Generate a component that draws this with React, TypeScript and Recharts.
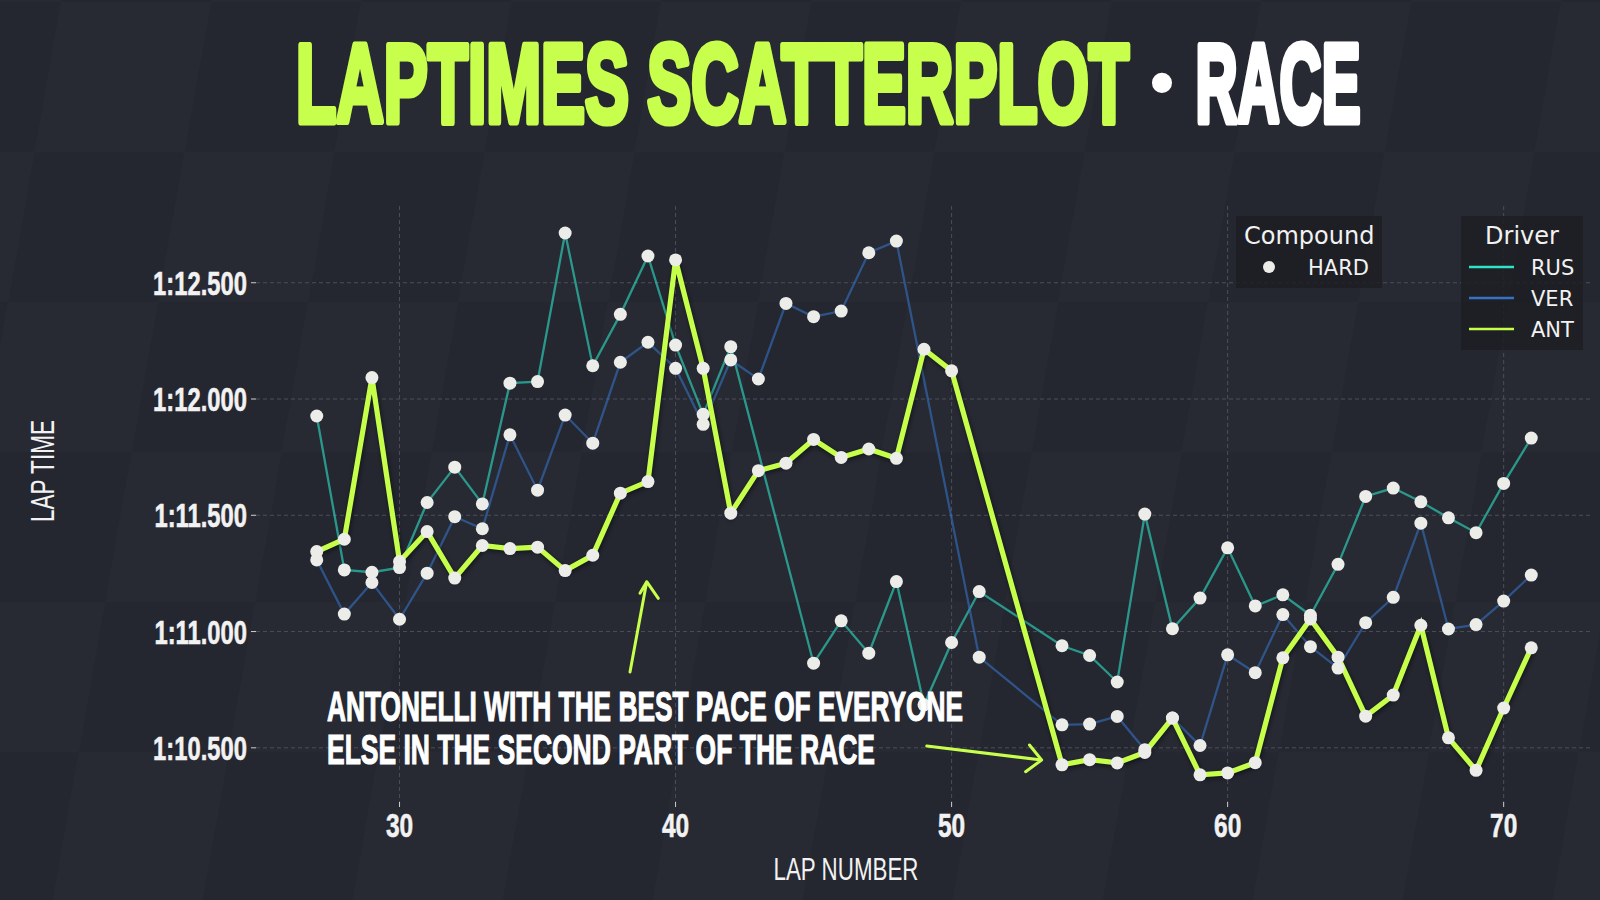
import React from 'react';
import { ComposedChart, Line, XAxis, YAxis, CartesianGrid } from 'recharts';

const laps = [
    27, 28, 29, 30, 31, 32, 33, 34, 35, 36, 37, 38, 39, 40, 41, 42, 43, 44, 45, 46, 47, 48, 49,
    50, 51, 52, 53, 54, 55, 56, 57, 58, 59, 60, 61, 62, 63, 64, 65, 66, 67, 68, 69, 70, 71,
];

const rusTimes = [
    71.927, 71.265, 71.255, 71.275, 71.555, 71.707, 71.549, 72.068, 72.075, 72.714, 72.143, 72.364, 72.615,
    72.232, 71.934, 72.225, null, null, 70.864, 71.046, 70.907, 71.215, 70.685,
    70.953, 71.172, null, null, 70.939, 70.897, 70.783, 71.505, 71.012, 71.144, 71.360, 71.110,
    71.158, 71.070, 71.289, 71.581, 71.617, 71.558, 71.489, 71.425, 71.637, 71.832,
];

const verTimes = [
    71.308, 71.075, 71.211, 71.053, 71.251, 71.494, 71.442, 71.846, 71.608, 71.931, 71.810, 72.158, 72.244,
    72.132, 71.891, 72.168, 72.086, 72.411, 72.354, 72.378, 72.629, 72.679, null,
    null, 70.890, null, null, 70.599, 70.602, 70.635, 70.492, 70.628, 70.510, 70.900, 70.823,
    71.073, 70.935, 70.843, 71.038, 71.147, 71.466, 71.011, 71.030, 71.131, 71.243,
];

const antTimes = [
    71.344, 71.397, 72.092, 71.301, 71.430, 71.230, 71.370, 71.357, 71.363, 71.262, 71.328, 71.595, 71.645,
    72.598, 72.132, 71.509, 71.692, 71.724, 71.826, 71.749, 71.785, 71.745, 72.214,
    72.121, null, null, null, 70.427, 70.449, 70.435, 70.480, 70.628, 70.384, 70.392, 70.436,
    70.887, 71.054, 70.890, 70.636, 70.727, 71.027, 70.543, 70.403, 70.671, 70.930,
];

const drivers = ['RUS', 'VER', 'ANT'];
const driverColors = ['#2ee3c8', '#3572c2', '#c6ff4a'];

const lapTicks = [30, 40, 50, 60, 70];
const timeTicks = [70.5, 71, 71.5, 72, 72.5];

const annotationLines = [
    'ANTONELLI WITH THE BEST PACE OF EVERYONE',
    'ELSE IN THE SECOND PART OF THE RACE',
];

const LIME = '#c8ff4d';
const MARKER = '#ecece8';
const TEXT = '#f2f2f2';
const SANS = "'Liberation Sans', Arial, sans-serif";
const LEGEND_FONT = "'DejaVu Sans', sans-serif";

const data = laps.map((lap, i) => ({
    lap,
    RUS: rusTimes[i],
    VER: verTimes[i],
    ANT: antTimes[i],
}));

const formatLapTime = (v: number): string => {
    const m = Math.floor(v / 60);
    const s = v - m * 60;
    return `${m}:${s.toFixed(3).padStart(6, '0')}`;
};

// condensed text: squeeze horizontally so the box matches the reference width
const Squeezed = ({ x, y, width, sx, rotate, children, ...rest }: any) => (
    <text
        transform={`translate(${x},${y})${rotate ? ` rotate(${rotate})` : ''} scale(${sx},1)`}
        textLength={width / sx}
        lengthAdjust="spacingAndGlyphs"
        {...rest}
    >
        {children}
    </text>
);

const TimeTick = ({ x, y, payload }: any) => (
    <g transform={`translate(${x},${y})`}>
        <text
            transform="scale(0.7,1)"
            textAnchor="end"
            dy={12}
            fontFamily={SANS}
            fontWeight={700}
            fontSize={34}
            fill={TEXT}
            stroke={TEXT}
            strokeWidth={0.6}
        >
            {formatLapTime(payload.value)}
        </text>
    </g>
);

const LapTick = ({ x, y, payload }: any) => (
    <g transform={`translate(${x},${y})`}>
        <text
            transform="scale(0.72,1)"
            textAnchor="middle"
            dy={28}
            fontFamily={SANS}
            fontWeight={700}
            fontSize={34}
            fill={TEXT}
            stroke={TEXT}
            strokeWidth={0.6}
        >
            {payload.value}
        </text>
    </g>
);

const Background = () => (
    <svg width={1600} height={900} style={{ position: 'absolute', left: 0, top: 0 }}>
        <defs>
            <pattern
                id="checker"
                width={300}
                height={300}
                patternUnits="userSpaceOnUse"
                patternTransform="translate(61,2) skewX(-10)"
            >
                <rect width={300} height={300} fill="#242630" />
                <rect x={0} y={0} width={150} height={150} fill="#272933" />
                <rect x={150} y={150} width={150} height={150} fill="#272933" />
            </pattern>
        </defs>
        <rect width={1600} height={900} fill="url(#checker)" />
    </svg>
);

const Overlay = () => (
    <svg width={1600} height={900} style={{ position: 'absolute', left: 0, top: 0, pointerEvents: 'none' }}>
        {/* title */}
        <Squeezed
            x={296}
            y={121.5}
            width={833}
            sx={0.585}
            fontFamily={SANS}
            fontWeight={700}
            fontSize={112}
            fill={LIME}
            stroke={LIME}
            strokeWidth={7}
            strokeLinejoin="round"
        >
            LAPTIMES SCATTERPLOT
        </Squeezed>
        <text x={1162} y={106} textAnchor="middle" fontFamily={SANS} fontWeight={700} fontSize={70} fill="#ffffff">
            •
        </text>
        <Squeezed
            x={1195.5}
            y={121.5}
            width={165}
            sx={0.52}
            fontFamily={SANS}
            fontWeight={700}
            fontSize={112}
            fill="#ffffff"
            stroke="#ffffff"
            strokeWidth={7}
            strokeLinejoin="round"
        >
            RACE
        </Squeezed>

        {/* axis labels */}
        <Squeezed x={846} y={880} width={145} sx={0.697} textAnchor="middle" fontFamily={SANS} fontSize={32} fill={TEXT}>
            LAP NUMBER
        </Squeezed>
        <Squeezed
            x={54}
            y={471}
            rotate={-90}
            width={102}
            sx={0.678}
            textAnchor="middle"
            fontFamily={SANS}
            fontSize={33}
            fill={TEXT}
        >
            LAP TIME
        </Squeezed>

        {/* annotation */}
        <Squeezed
            x={327}
            y={721}
            width={636}
            sx={0.601}
            fontFamily={SANS}
            fontWeight={700}
            fontSize={43}
            fill="#ffffff"
            stroke="#ffffff"
            strokeWidth={1.2}
        >
            {annotationLines[0]}
        </Squeezed>
        <Squeezed
            x={327}
            y={764}
            width={548}
            sx={0.613}
            fontFamily={SANS}
            fontWeight={700}
            fontSize={43}
            fill="#ffffff"
            stroke="#ffffff"
            strokeWidth={1.2}
        >
            {annotationLines[1]}
        </Squeezed>
        <path
            d="M630 672 L646.7 581.7 M640 593.3 L646.7 581.7 L658.3 598.3"
            fill="none"
            stroke={LIME}
            strokeWidth={3}
            strokeLinecap="round"
            strokeLinejoin="round"
        />
        <path
            d="M926.8 746 L1041.6 760 M1029.5 745 L1041.6 760 L1025.6 771.7"
            fill="none"
            stroke={LIME}
            strokeWidth={3}
            strokeLinecap="round"
            strokeLinejoin="round"
        />

        {/* compound legend */}
        <rect x={1236} y={216} width={146} height={72} fill="#1d1e23" fillOpacity={0.85} />
        <text x={1244} y={244} fontFamily={LEGEND_FONT} fontSize={24} fill={TEXT}>
            Compound
        </text>
        <circle cx={1269} cy={267} r={6} fill={MARKER} />
        <text x={1308} y={275} fontFamily={LEGEND_FONT} fontSize={21} fill={TEXT}>
            HARD
        </text>

        {/* driver legend */}
        <rect x={1461} y={216} width={122} height={134} fill="#1d1e23" fillOpacity={0.85} />
        <text x={1522} y={244} textAnchor="middle" fontFamily={LEGEND_FONT} fontSize={24} fill={TEXT}>
            Driver
        </text>
        {drivers.map((d, i) => (
            <g key={d}>
                <line x1={1469} x2={1514} y1={267 + i * 31} y2={267 + i * 31} stroke={driverColors[i]} strokeWidth={2.6} />
                <text x={1531} y={275 + i * 31} fontFamily={LEGEND_FONT} fontSize={21} fill={TEXT}>
                    {d}
                </text>
            </g>
        ))}
    </svg>
);

const App: React.FC = () => {
    return (
        <div style={{ position: 'relative', width: 1600, height: 900, background: '#252731', overflow: 'hidden' }}>
            <style>{'body { margin: 0; }'}</style>
            <Background />
            <div style={{ position: 'absolute', left: 0, top: 0 }}>
                <ComposedChart
                    width={1600}
                    height={900}
                    data={data}
                    margin={{ top: 206, right: 8, left: 156, bottom: 38 }}
                >
                    <CartesianGrid strokeDasharray="4 3" stroke="#4c4e5a" strokeWidth={1} syncWithTicks />
                    <XAxis
                        type="number"
                        dataKey="lap"
                        domain={[24.8, 73.2]}
                        ticks={lapTicks}
                        allowDataOverflow
                        axisLine={false}
                        tickLine={{ stroke: '#cfcfcf' }}
                        tickSize={5}
                        height={60}
                        tick={<LapTick />}
                    />
                    <YAxis
                        type="number"
                        domain={[70.267, 72.83]}
                        ticks={timeTicks}
                        allowDataOverflow
                        axisLine={false}
                        tickLine={{ stroke: '#cfcfcf' }}
                        tickSize={5}
                        tickMargin={4}
                        width={100}
                        tick={<TimeTick />}
                    />
                    <Line
                        dataKey="RUS"
                        stroke={driverColors[0]}
                        strokeOpacity={0.6}
                        strokeWidth={2.3}
                        connectNulls
                        dot={false}
                        activeDot={false}
                        isAnimationActive={false}
                    />
                    <Line
                        dataKey="VER"
                        stroke={driverColors[1]}
                        strokeOpacity={0.6}
                        strokeWidth={2.3}
                        connectNulls
                        dot={false}
                        activeDot={false}
                        isAnimationActive={false}
                    />
                    <Line
                        dataKey="ANT"
                        stroke={driverColors[2]}
                        strokeWidth={5.2}
                        connectNulls
                        dot={false}
                        activeDot={false}
                        isAnimationActive={false}
                        style={{ filter: 'drop-shadow(1px 2px 2px rgba(0,0,0,0.45))' }}
                    />
                    {drivers.map(d => (
                        <Line
                            key={`dots-${d}`}
                            dataKey={d}
                            stroke="none"
                            dot={{ r: 6.5, fill: MARKER, stroke: 'none' }}
                            activeDot={false}
                            isAnimationActive={false}
                        />
                    ))}
                </ComposedChart>
            </div>
            <Overlay />
        </div>
    );
};

export default App;
